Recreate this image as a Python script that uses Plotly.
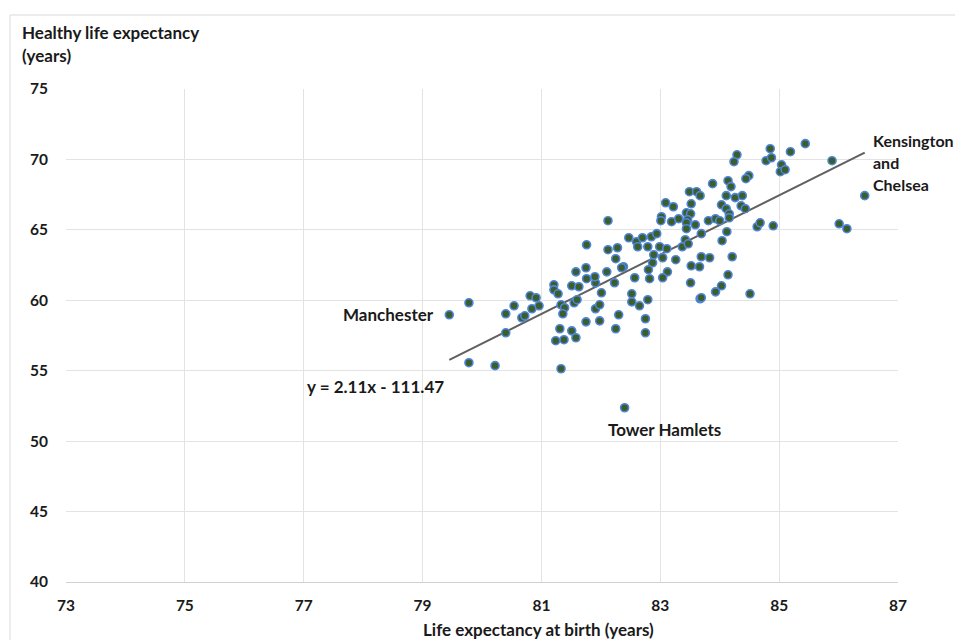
import plotly.graph_objects as go

# Life expectancy at birth (years)
life_expectancy = [
    79.45, 79.78, 79.78, 80.22, 80.40, 80.40, 80.54, 80.67, 80.72, 80.81,
    80.91, 80.84, 80.96, 81.21, 81.21, 81.28, 81.33, 81.39, 81.36, 81.31,
    81.24, 81.38, 81.33, 81.51, 81.63, 81.55, 81.60, 81.51, 81.58, 81.75,
    81.91, 81.98, 81.98, 82.01, 81.91, 81.76, 82.23, 82.25, 82.30, 82.40,
    82.12, 81.76, 82.47, 82.60, 82.62, 82.70, 82.85, 82.94, 82.79, 82.99,
    83.11, 83.09, 83.22, 83.02, 83.01, 83.19, 82.12, 82.28, 82.25, 82.89,
    83.04, 82.87, 83.26, 83.12, 82.80, 82.82, 83.04, 82.57, 82.38, 82.35,
    82.10, 81.90, 81.75, 81.58, 82.52, 82.52, 82.65, 82.79, 82.75, 82.75,
    84.85, 84.78, 84.87, 84.29, 84.24, 85.04, 85.02, 85.10, 85.19, 85.44,
    84.49, 84.44, 84.14, 84.19, 83.88, 83.49, 83.61, 83.67, 84.11, 84.26,
    84.38, 83.52, 84.03, 84.11, 84.36, 84.43, 83.44, 83.51, 83.31, 83.46,
    83.44, 83.44, 83.59, 83.81, 83.93, 84.00, 84.16, 84.16, 84.12, 83.69,
    84.04, 84.63, 84.68, 84.90, 83.42, 83.37, 83.47, 83.69, 83.83, 84.21,
    83.52, 83.66, 83.51, 84.14, 84.03, 83.93, 83.67, 83.69, 84.51, 85.89,
    86.44, 86.01, 86.14,
]

# Healthy life expectancy (years)
healthy_life_expectancy = [
    58.97, 59.82, 55.57, 55.36, 59.04, 57.69, 59.61, 58.76, 58.90, 60.32,
    60.18, 59.40, 59.61, 61.10, 60.74, 60.46, 59.68, 59.47, 59.04, 57.98,
    57.13, 57.20, 55.14, 61.03, 60.96, 59.82, 60.04, 57.83, 57.34, 58.47,
    59.40, 59.68, 58.54, 60.53, 61.24, 61.53, 61.24, 57.98, 58.97, 52.37,
    65.65, 63.94, 64.44, 64.16, 63.80, 64.44, 64.51, 64.73, 63.80, 63.80,
    63.66, 66.92, 66.64, 65.93, 65.65, 65.58, 63.59, 63.73, 62.95, 63.23,
    63.02, 62.66, 62.88, 62.02, 62.17, 61.53, 61.60, 61.60, 62.38, 62.31,
    62.02, 61.67, 62.31, 62.02, 60.46, 59.89, 59.61, 60.04, 58.69, 57.69,
    70.76, 69.91, 70.12, 70.33, 69.84, 69.62, 69.13, 69.27, 70.55, 71.12,
    68.85, 68.63, 68.49, 68.07, 68.28, 67.71, 67.71, 67.43, 67.43, 67.29,
    67.43, 66.85, 66.78, 66.50, 66.71, 66.50, 66.21, 66.14, 65.79, 65.72,
    65.50, 65.08, 65.36, 65.65, 65.79, 65.65, 66.14, 65.86, 64.87, 64.73,
    64.23, 65.22, 65.50, 65.29, 64.30, 63.80, 64.01, 63.09, 63.02, 63.09,
    62.45, 62.38, 61.24, 61.81, 61.03, 60.60, 60.11, 60.18, 60.46, 69.91,
    67.43, 65.43, 65.08,
]

# Linear trend line coefficients (label shows rounded values)
trend_slope = 2.105
trend_intercept = -111.47
trend_label = "y = 2.11x - 111.47"

x_ticks = [73, 75, 77, 79, 81, 83, 85, 87]
y_ticks = [40, 45, 50, 55, 60, 65, 70, 75]

labelled = {
    "Manchester": (79.45, 58.97),
    "Tower Hamlets": (82.40, 52.37),
    "Kensington and Chelsea": (86.44, 67.43),
}

FONT = "Lato"
TXT = "#1a1a1a"
ANN_SIZE = 17

# the page adds an 8px body margin, so the figure is laid out 8px smaller
OFF = 8
W, H = 963 - OFF, 640 - OFF
PL, PR, PT, PB = 66 - OFF, 898 - OFF, 89 - OFF, 582 - OFF


def page_to_paper(px, py):
    fx, fy = px - OFF, py - OFF
    return (fx - PL) / (PR - PL), (PB - fy) / (PB - PT)


x_min = min(life_expectancy)
x_max = max(life_expectancy)
trend_x = [x_min, x_max]
trend_y = [trend_slope * v + trend_intercept for v in trend_x]

fig = go.Figure()
fig.add_trace(go.Scatter(
    x=trend_x, y=trend_y, mode="lines",
    line=dict(color="#606060", width=2), hoverinfo="skip", showlegend=False,
))
fig.add_trace(go.Scatter(
    x=life_expectancy, y=healthy_life_expectancy, mode="markers",
    marker=dict(size=8, color="#3b5e2b", line=dict(color="#4f86dc", width=1.6)),
    showlegend=False,
))

afont = dict(family=FONT, size=ANN_SIZE, color=TXT)
ann = []
mx, my = labelled["Manchester"]
ann.append(dict(x=mx, y=my, xref="x", yref="y", text="<b>Manchester</b>",
                xanchor="right", yanchor="middle", xshift=-13, showarrow=False))
tx, ty = labelled["Tower Hamlets"]
ann.append(dict(x=tx, y=ty, xref="x", yref="y", text="<b>Tower Hamlets</b>",
                xanchor="left", yanchor="middle", xshift=-19, yshift=-22, showarrow=False))
kx, ky = labelled["Kensington and Chelsea"]
for i, line in enumerate(["Kensington", "and", "Chelsea"]):
    ann.append(dict(x=kx, y=ky, xref="x", yref="y", text="<b>%s</b>" % line,
                    xanchor="left", yanchor="middle", xshift=6, yshift=55 - 22 * i,
                    showarrow=False, font=dict(family=FONT, size=16, color=TXT)))
ann.append(dict(x=77.02, y=53.86, xref="x", yref="y", text="<b>%s</b>" % trend_label,
                xanchor="left", yanchor="middle", showarrow=False))

# axis titles (positions given in page pixels)
for text, px, py, xa in [
    ("<b>Healthy life expectancy</b>", 20, 33, "left"),
    ("<b>(years)</b>", 20, 56, "left"),
    ("<b>Life expectancy at birth (years)</b>", 538, 629, "center"),
]:
    ax, ay = page_to_paper(px, py)
    ann.append(dict(x=ax, y=ay, xref="paper", yref="paper", text=text,
                    xanchor=xa, yanchor="middle", showarrow=False))

for a in ann:
    a.setdefault("font", afont)

bx0, by1 = page_to_paper(10, 15)

fig.update_layout(
    width=W, height=H,
    margin=dict(l=PL, r=W - PR, t=PT, b=H - PB),
    plot_bgcolor="white", paper_bgcolor="white",
    font=dict(family=FONT, size=15, color=TXT),
    annotations=ann,
    shapes=[dict(type="rect", xref="paper", yref="paper",
                 x0=bx0, x1=1.3, y0=-0.4, y1=by1,
                 line=dict(color="#d9d9d9", width=1), layer="below")],
)

fig.update_xaxes(
    range=[73, 87], tickvals=x_ticks, ticktext=["<b>%d</b>" % v for v in x_ticks],
    showgrid=True, gridcolor="#e3e3e3", gridwidth=1,
    showline=True, linecolor="#d0d0d0", linewidth=1,
    zeroline=False, ticks="outside", ticklen=9, tickcolor="rgba(0,0,0,0)",
    tickfont=dict(family=FONT, size=15.5, color=TXT), fixedrange=True,
)
fig.update_yaxes(
    range=[40, 75], tickvals=y_ticks, ticktext=["<b>%d</b>" % v for v in y_ticks],
    showgrid=True, gridcolor="#e3e3e3", gridwidth=1,
    showline=False, zeroline=False, ticks="outside", ticklen=14,
    tickcolor="rgba(0,0,0,0)",
    tickfont=dict(family=FONT, size=15.5, color=TXT), fixedrange=True,
)

fig.write_html("out.html")
